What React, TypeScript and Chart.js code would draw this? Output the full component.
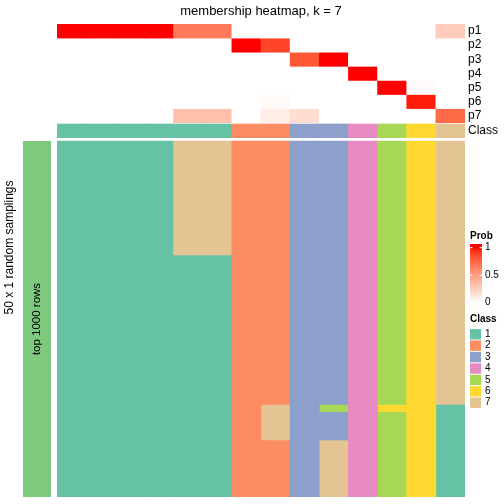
import React, { useEffect, useRef } from "react";
import { Chart, registerables } from "chart.js";

Chart.register(...registerables);

// ---------------- data ----------------
const titleText = "membership heatmap, k = 7";
const rowTitle = "50 x 1 random samplings";
const stripLabel = "top 1000 rows";

const columnIds = ["c1", "c2", "c3", "c4", "c5", "c6", "c7", "c8", "c9", "c10", "c11", "c12", "c13", "c14"];

const probP1 = [1, 1, 1, 1, 0.67, 0.67, 0, 0, 0, 0, 0, 0, 0, 0.27];
const probP2 = [0, 0, 0, 0, 0, 0, 1, 0.88, 0, 0, 0, 0, 0, 0];
const probP3 = [0, 0, 0, 0, 0, 0, 0, 0, 0.82, 1, 0, 0, 0, 0];
const probP4 = [0, 0, 0, 0, 0, 0, 0, 0, 0, 0, 1, 0, 0, 0];
const probP5 = [0, 0, 0, 0, 0, 0, 0, 0, 0, 0, 0, 1, 0.02, 0];
const probP6 = [0, 0, 0, 0, 0, 0, 0, 0.03, 0, 0, 0, 0, 0.97, 0];
const probP7 = [0, 0, 0, 0, 0.33, 0.33, 0, 0.09, 0.18, 0, 0, 0, 0, 0.74];

const rowLabels = ["p1", "p2", "p3", "p4", "p5", "p6", "p7", "Class"];
const columnClass = [1, 1, 1, 1, 1, 1, 2, 2, 3, 3, 4, 5, 6, 7];

const classColors = ["#66C2A5", "#FC8D62", "#8DA0CB", "#E78AC3", "#A6D854", "#FFD92F", "#E5C494"];
const classLegendLabels = ["1", "2", "3", "4", "5", "6", "7"];
const stripColor = "#7FC97F";
const probTicks = [0, 0.5, 1];
const probTickLabels = ["0", "0.5", "1"];

// class of each column in each of the 50 random samplings
const samplingRows = [
  "11117722334567",
  "11117722334567",
  "11117722334567",
  "11117722334567",
  "11117722334567",
  "11117722334567",
  "11117722334567",
  "11117722334567",
  "11117722334567",
  "11117722334567",
  "11117722334567",
  "11117722334567",
  "11117722334567",
  "11117722334567",
  "11117722334567",
  "11117722334567",
  "11111122334567",
  "11111122334567",
  "11111122334567",
  "11111122334567",
  "11111122334567",
  "11111122334567",
  "11111122334567",
  "11111122334567",
  "11111122334567",
  "11111122334567",
  "11111122334567",
  "11111122334567",
  "11111122334567",
  "11111122334567",
  "11111122334567",
  "11111122334567",
  "11111122334567",
  "11111122334567",
  "11111122334567",
  "11111122334567",
  "11111122334567",
  "11111127354661",
  "11111127334561",
  "11111127334561",
  "11111127334561",
  "11111127334561",
  "11111122374561",
  "11111122374561",
  "11111122374561",
  "11111122374561",
  "11111122374561",
  "11111122374561",
  "11111122374561",
  "11111122374561",
];

// ---------------- layout (y units = pixels of the plot area) ----------------
const FONT = "'Liberation Sans', Arial, Helvetica, sans-serif";
const P_ROW = 14.1;
const CLASS_TOP = 100;
const CLASS_H = 13.7;
const BODY_TOP = 117;
const Y_TOTAL = 473;
const BODY_ROW = (Y_TOTAL - BODY_TOP) / samplingRows.length;

// ---------------- colour helpers (LAB interpolation white -> red) ----------------
function toLin(c: number) {
  c /= 255;
  return c <= 0.04045 ? c / 12.92 : Math.pow((c + 0.055) / 1.055, 2.4);
}
function fromLin(v: number) {
  v = Math.max(0, Math.min(1, v));
  const s = v <= 0.0031308 ? 12.92 * v : 1.055 * Math.pow(v, 1 / 2.4) - 0.055;
  return Math.round(s * 255);
}
function rgbToLab(rgb: number[]) {
  const R = toLin(rgb[0]), G = toLin(rgb[1]), B = toLin(rgb[2]);
  const X = (0.4124 * R + 0.3576 * G + 0.1805 * B) / 0.95047;
  const Y = 0.2126 * R + 0.7152 * G + 0.0722 * B;
  const Z = (0.0193 * R + 0.1192 * G + 0.9505 * B) / 1.08883;
  const f = (t: number) => (t > 0.008856 ? Math.cbrt(t) : 7.787 * t + 16 / 116);
  const fx = f(X), fy = f(Y), fz = f(Z);
  return [116 * fy - 16, 500 * (fx - fy), 200 * (fy - fz)];
}
function labToRgb(lab: number[]) {
  const fy = (lab[0] + 16) / 116;
  const fx = fy + lab[1] / 500;
  const fz = fy - lab[2] / 200;
  const finv = (t: number) => (t * t * t > 0.008856 ? t * t * t : (t - 16 / 116) / 7.787);
  const X = 0.95047 * finv(fx), Y = finv(fy), Z = 1.08883 * finv(fz);
  const R = 3.2406 * X - 1.5372 * Y - 0.4986 * Z;
  const G = -0.9689 * X + 1.8758 * Y + 0.0415 * Z;
  const B = 0.0557 * X - 0.204 * Y + 1.057 * Z;
  return `rgb(${fromLin(R)},${fromLin(G)},${fromLin(B)})`;
}
const WHITE_LAB = rgbToLab([255, 255, 255]);
const RED_LAB = rgbToLab([255, 0, 0]);
function probColor(v: number) {
  return labToRgb(WHITE_LAB.map((w, i) => w + (RED_LAB[i] - w) * v));
}

export default function App() {
  const ref = useRef<HTMLCanvasElement>(null);

  useEffect(() => {
    const canvas = ref.current;
    if (!canvas) return;

    const probRows = [probP1, probP2, probP3, probP4, probP5, probP6, probP7];
    const barCommon = {
      grouped: false,
      categoryPercentage: 1,
      barPercentage: 1,
      borderWidth: 0,
      yAxisID: "y",
    };
    const datasets: any[] = [];
    probRows.forEach((vals, r) => {
      datasets.push({
        label: rowLabels[r],
        data: vals.map(() => [r * P_ROW, (r + 1) * P_ROW]),
        backgroundColor: vals.map(probColor),
        ...barCommon,
      });
    });
    datasets.push({
      label: "Class",
      data: columnClass.map(() => [CLASS_TOP, CLASS_TOP + CLASS_H]),
      backgroundColor: columnClass.map((k) => classColors[k - 1]),
      ...barCommon,
    });

    // vertical runs of equal class in each column of the sampling matrix
    const N = samplingRows.length;
    const runsPerCol = columnIds.map((_, c) => {
      const runs: { start: number; end: number; k: number }[] = [];
      let start = 0;
      for (let i = 1; i <= N; i++) {
        if (i === N || samplingRows[i][c] !== samplingRows[start][c]) {
          runs.push({ start, end: i, k: Number(samplingRows[start][c]) });
          start = i;
        }
      }
      return runs;
    });
    const maxRuns = Math.max(...runsPerCol.map((r) => r.length));
    for (let k = 0; k < maxRuns; k++) {
      datasets.push({
        label: "samplings " + k,
        data: runsPerCol.map((runs) =>
          runs[k] ? [BODY_TOP + runs[k].start * BODY_ROW, BODY_TOP + runs[k].end * BODY_ROW] : null
        ),
        backgroundColor: runsPerCol.map((runs) => (runs[k] ? classColors[runs[k].k - 1] : "rgba(0,0,0,0)")),
        ...barCommon,
      });
    }

    const labelCenters = [
      ...probRows.map((_, r) => r * P_ROW + P_ROW / 2),
      CLASS_TOP + CLASS_H / 2,
    ];

    const decorations = {
      id: "decorations",
      afterDraw(chart: any) {
        const ctx = chart.ctx as CanvasRenderingContext2D;
        const ys = chart.scales.y;
        const area = chart.chartArea;
        ctx.save();
        // title
        ctx.fillStyle = "#000";
        ctx.font = `13px ${FONT}`;
        ctx.textAlign = "center";
        ctx.textBaseline = "middle";
        ctx.fillText(titleText, (area.left + area.right) / 2, 11);

        // left strip
        const bTop = ys.getPixelForValue(BODY_TOP);
        const bBot = ys.getPixelForValue(Y_TOTAL);
        ctx.fillStyle = stripColor;
        ctx.fillRect(23, bTop, 28, bBot - bTop);

        // rotated texts
        ctx.fillStyle = "#000";
        ctx.save();
        ctx.translate(37, (bTop + bBot) / 2);
        ctx.rotate(-Math.PI / 2);
        ctx.font = `11.5px ${FONT}`;
        ctx.fillText(stripLabel, 0, 0);
        ctx.restore();

        ctx.save();
        ctx.translate(10, 247.5);
        ctx.rotate(-Math.PI / 2);
        ctx.font = `12px ${FONT}`;
        ctx.fillText(rowTitle, 0, 0);
        ctx.restore();

        // Prob legend
        const lx = 470;
        ctx.textAlign = "left";
        ctx.font = `bold 10px ${FONT}`;
        ctx.fillText("Prob", lx, 236);
        const yOne = 247.7, yZero = 302.7;
        const barTop = 244, barBot = 307;
        const grad = ctx.createLinearGradient(0, yOne, 0, yZero);
        for (let i = 0; i <= 20; i++) grad.addColorStop(i / 20, probColor(1 - i / 20));
        ctx.fillStyle = grad;
        ctx.fillRect(lx, barTop, 12, barBot - barTop);
        ctx.font = `10px ${FONT}`;
        probTicks.forEach((v, i) => {
          const y = yZero - (yZero - yOne) * v;
          ctx.fillStyle = "#fff";
          ctx.fillRect(lx, y - 0.5, 2.5, 1);
          ctx.fillRect(lx + 9.5, y - 0.5, 2.5, 1);
          ctx.fillStyle = "#000";
          ctx.fillText(probTickLabels[i], 485, y);
        });

        // Class legend
        ctx.font = `bold 10px ${FONT}`;
        ctx.fillText("Class", lx, 319);
        ctx.font = `10px ${FONT}`;
        classLegendLabels.forEach((lab, i) => {
          const top = 328.6 + i * 11.4;
          ctx.fillStyle = classColors[i];
          ctx.fillRect(lx, top + 0.5, 11, 10.4);
          ctx.fillStyle = "#000";
          ctx.fillText(lab, 485, top + 5.7);
        });
        ctx.restore();
      },
    };

    const chart = new Chart(canvas, {
      type: "bar",
      data: { labels: columnIds, datasets },
      options: {
        animation: false,
        responsive: false,
        devicePixelRatio: 1,
        layout: { padding: { left: 57, top: 24, bottom: 7, right: 0 } },
        plugins: { legend: { display: false }, tooltip: { enabled: false }, title: { display: false } },
        scales: {
          x: { display: false, offset: true },
          y: { display: false, min: 0, max: Y_TOTAL, reverse: true },
          yRight: {
            type: "linear",
            position: "right",
            min: 0,
            max: Y_TOTAL,
            reverse: true,
            grid: { display: false, drawTicks: false },
            border: { display: false },
            ticks: {
              autoSkip: false,
              padding: 3,
              color: "#000",
              font: { size: 12, family: FONT },
              callback: (_v: any, i: number) => rowLabels[i],
            },
            afterBuildTicks: (scale: any) => {
              scale.ticks = labelCenters.map((v) => ({ value: v }));
            },
            afterFit: (scale: any) => {
              scale.width = 39;
              scale.paddingTop = 0;
              scale.paddingBottom = 0;
            },
          },
        },
      } as any,
      plugins: [decorations],
    });

    return () => chart.destroy();
  }, []);

  return (
    <div style={{ position: "fixed", left: 0, top: 0, width: 504, height: 504, background: "#fff" }}>
      <canvas ref={ref} width={504} height={504} />
    </div>
  );
}
